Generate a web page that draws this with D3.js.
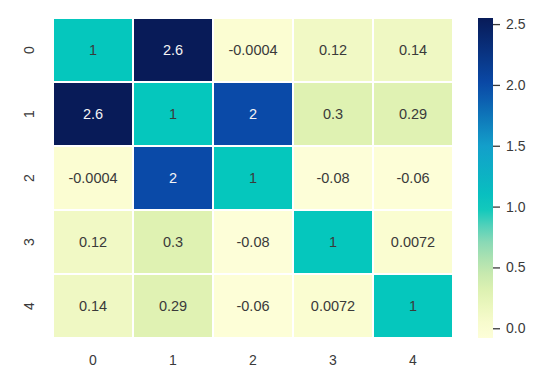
<!DOCTYPE html>
<html>
<head>
<meta charset="utf-8">
<script src="https://cdn.jsdelivr.net/npm/d3@7"></script>
<style>
  body { margin: 0; background: #fff; }
  text { font-family: "Liberation Sans", Arial, sans-serif; }
</style>
</head>
<body>
<div id="chart"></div>
<script>
// matrix labels and values
var rowLabels = ["0", "1", "2", "3", "4"];
var colLabels = ["0", "1", "2", "3", "4"];
var row0 = [1, 2.6, -0.0004, 0.12, 0.14];
var row1 = [2.6, 1, 2, 0.3, 0.29];
var row2 = [-0.0004, 2, 1, -0.08, -0.06];
var row3 = [0.12, 0.3, -0.08, 1, 0.0072];
var row4 = [0.14, 0.29, -0.06, 0.0072, 1];
var rows = [row0, row1, row2, row3, row4];
var cbarTicks = [0.0, 0.5, 1.0, 1.5, 2.0, 2.5];

var vmin = -0.08, vmax = 2.55;

var w = 550, h = 383;
var mLeft = 53, mTop = 18, gridW = 400, gridH = 320;

var svg = d3.select("#chart").append("svg")
    .attr("width", w)
    .attr("height", h);

// colour map
var color = d3.scaleLinear()
    .domain([-0.08, 0.0, 0.15, 0.3, 0.5, 0.75, 1.0, 1.5, 2.0, 2.55])
    .range(["#fdfed8", "#fbfdd2", "#eef8c2", "#dff2b2", "#bfe6ae", "#7fd6b8", "#05c7bd", "#139fca", "#0a4aa8", "#081b58"])
    .clamp(true);

var x = d3.scaleBand().domain(colLabels).range([mLeft, mLeft + gridW]);
var y = d3.scaleBand().domain(rowLabels).range([mTop, mTop + gridH]);

var cells = [];
rows.forEach(function(r, i) {
  r.forEach(function(v, j) {
    cells.push({row: rowLabels[i], col: colLabels[j], value: v});
  });
});

svg.append("g").selectAll("rect")
    .data(cells)
  .enter().append("rect")
    .attr("x", function(d) { return x(d.col); })
    .attr("y", function(d) { return y(d.row); })
    .attr("width", x.bandwidth())
    .attr("height", y.bandwidth())
    .attr("fill", function(d) { return color(d.value); })
    .attr("stroke", "#fff")
    .attr("stroke-width", 2);

svg.append("g").selectAll("text")
    .data(cells)
  .enter().append("text")
    .attr("x", function(d) { return x(d.col) + x.bandwidth() / 2; })
    .attr("y", function(d) { return y(d.row) + y.bandwidth() / 2; })
    .attr("dy", "0.35em")
    .attr("text-anchor", "middle")
    .attr("font-size", 14.5)
    .attr("fill", function(d) { return d.value > 1.6 ? "#f4f4f4" : "#3a3a3a"; })
    .text(function(d) { return String(d.value); });

// tick labels
svg.append("g").selectAll("text")
    .data(colLabels)
  .enter().append("text")
    .attr("x", function(d) { return x(d) + x.bandwidth() / 2; })
    .attr("y", 365)
    .attr("text-anchor", "middle")
    .attr("font-size", 14)
    .attr("fill", "#3a3a3a")
    .text(function(d) { return d; });

svg.append("g").selectAll("text")
    .data(rowLabels)
  .enter().append("text")
    .attr("transform", function(d) {
      return "translate(34," + (y(d) + y.bandwidth() / 2) + ") rotate(-90)";
    })
    .attr("text-anchor", "middle")
    .attr("font-size", 14)
    .attr("fill", "#3a3a3a")
    .text(function(d) { return d; });

// colour bar
var cbX = 478, cbW = 15;
var cy = d3.scaleLinear().domain([vmin, vmax]).range([mTop + gridH, mTop]);

var defs = svg.append("defs");
var grad = defs.append("linearGradient")
    .attr("id", "cbar")
    .attr("x1", 0).attr("y1", 1).attr("x2", 0).attr("y2", 0);
d3.range(0, 1.0001, 0.05).forEach(function(t) {
  grad.append("stop")
      .attr("offset", t)
      .attr("stop-color", color(vmin + t * (vmax - vmin)));
});

svg.append("rect")
    .attr("x", cbX)
    .attr("y", mTop)
    .attr("width", cbW)
    .attr("height", gridH)
    .attr("fill", "url(#cbar)");

var cbAxis = svg.append("g")
    .attr("transform", "translate(" + (cbX + cbW) + ",0)")
    .call(d3.axisRight(cy).tickValues(cbarTicks).tickFormat(d3.format(".1f")).tickSize(7).tickPadding(6));
cbAxis.select(".domain").remove();
cbAxis.selectAll("line").attr("stroke", "#3a3a3a").attr("stroke-width", 1.3);
cbAxis.selectAll("text")
    .attr("font-size", 14)
    .attr("font-family", "Liberation Sans, Arial, sans-serif")
    .attr("fill", "#3a3a3a");
</script>
</body>
</html>
